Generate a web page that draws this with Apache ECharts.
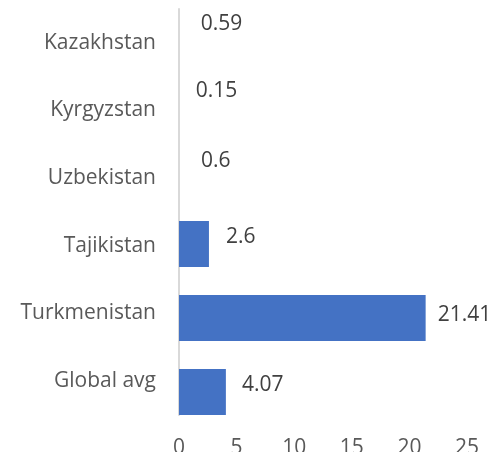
<!DOCTYPE html>
<html>
<head>
<meta charset="utf-8">
<script src="https://cdn.jsdelivr.net/npm/echarts@6/dist/echarts.min.js"></script>
<style>
  html, body { margin: 0; padding: 0; background: #fff; }
  #chart { width: 492px; height: 452px; }
</style>
</head>
<body>
<div id="chart"></div>
<script>
// categories, top to bottom as shown
const countries = ['Kazakhstan', 'Kyrgyzstan', 'Uzbekistan', 'Tajikistan', 'Turkmenistan', 'Global avg'];
const values = [0.59, 0.15, 0.6, 2.6, 21.41, 4.07];
const xTicks = [0, 5, 10, 15, 20, 25];

// small hand nudges of the value labels, as in the original figure
const labelNudge = [[0, 2], [0, -5], [0, -9], [2, -7], [-3, -3], [1, -7]];

const chart = echarts.init(document.getElementById('chart'));

// the first three bars have no fill in the original, only their labels show
const seriesData = values.map((v, i) => ({
  value: v,
  itemStyle: { color: i < 3 ? 'rgba(0,0,0,0)' : '#4472c4' },
  label: { offset: labelNudge[i] }
}));

const font = 'Open Sans';

// grid 0 holds the bars, grid 1 holds the visible axes and category labels
// (the bars in the original sit a bit off the category labels)
const option = {
  animation: false,
  grid: [
    { left: 179, right: 25, top: -15, bottom: 23, outerBoundsMode: 'none' },
    { left: 179, right: 25, top: 9, bottom: 37, outerBoundsMode: 'none' }
  ],
  xAxis: [
    {
      gridIndex: 0, type: 'value', min: 0, max: 25, interval: 5,
      show: false
    },
    {
      gridIndex: 1, type: 'value',
      min: xTicks[0], max: xTicks[xTicks.length - 1], interval: 5,
      splitLine: { show: false },
      axisLine: { show: false },
      axisTick: { show: false },
      axisLabel: { margin: 23, fontFamily: font, fontSize: 21, color: '#595959' }
    }
  ],
  yAxis: [
    {
      gridIndex: 0, type: 'category', data: countries, inverse: true,
      show: false
    },
    {
      gridIndex: 1, type: 'category', data: countries, inverse: true,
      axisLine: { show: true, lineStyle: { color: '#d9d9d9', width: 2 } },
      axisTick: { show: false },
      axisLabel: { margin: 23, fontFamily: font, fontSize: 21, color: '#595959' }
    }
  ],
  series: [{
    type: 'bar',
    xAxisIndex: 0,
    yAxisIndex: 0,
    data: seriesData,
    barWidth: 46,
    z: 3,
    label: {
      show: true,
      position: 'right',
      distance: 15,
      fontFamily: font,
      fontSize: 21,
      color: '#404040'
    }
  }]
};

chart.setOption(option);
</script>
</body>
</html>
